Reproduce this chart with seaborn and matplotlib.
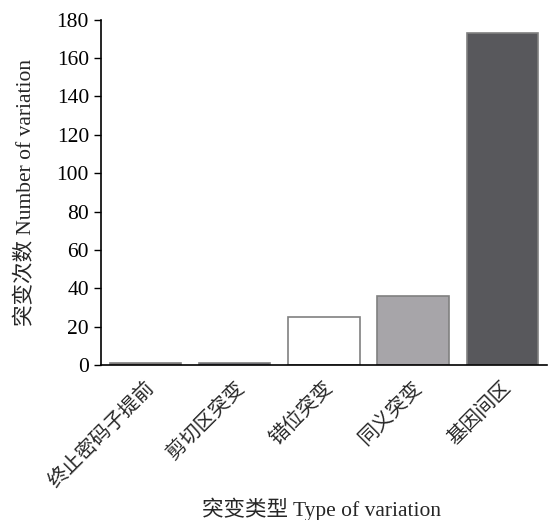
import matplotlib
matplotlib.use("Agg")
import matplotlib.pyplot as plt
import seaborn as sns
import pandas as pd

categories = ["终止密码子提前", "剪切区突变", "错位突变", "同义突变", "基因间区"]
counts = [1, 1, 25, 36, 173]
bar_colors = ["#7a6c64", "#2c2c44", "#ffffff", "#a7a5a9", "#58585c"]

sns.set_style("ticks")
plt.rcParams["font.family"] = ["Liberation Serif", "Noto Sans CJK SC"]

df = pd.DataFrame({"type": categories, "count": counts})

fig = plt.figure(figsize=(5.48, 5.2), dpi=100)
ax = fig.add_axes([0.184, 0.298, 0.814, 0.664])
sns.barplot(data=df, x="type", y="count", hue="type", palette=bar_colors,
            legend=False, width=0.8, edgecolor="#808080", linewidth=1.2,
            saturation=1, ax=ax)

ax.set_ylim(0, 180)
ax.set_xlim(-0.5, 4.5)
ax.set_yticks(range(0, 181, 20))
ax.tick_params(axis="y", labelsize=15.5, length=5, width=1, colors="black")
ax.tick_params(axis="x", length=0, pad=10)
for lab in ax.get_xticklabels():
    lab.set_rotation(45)
    lab.set_ha("right")
    lab.set_rotation_mode("anchor")
    lab.set_fontsize(14.5)
ax.set_ylabel("突变次数 Number of variation", fontsize=15.5)
ax.set_xlabel("突变类型 Type of variation", fontsize=15.5)
ax.xaxis.set_label_coords(0.495, -0.385)
ax.yaxis.set_label_coords(-0.145, 0.5)
sns.despine(ax=ax)
for s in ["left", "bottom"]:
    ax.spines[s].set_color("black")
    ax.spines[s].set_linewidth(1.2)

fig.savefig("out.png", dpi=100)
